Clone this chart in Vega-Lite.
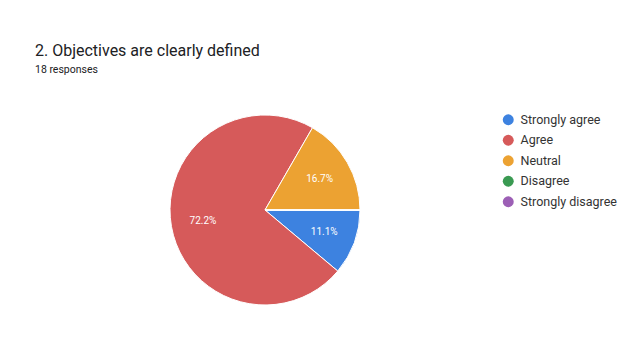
{
  "$schema": "https://vega.github.io/schema/vega-lite/v6.json",
  "autosize": "none",
  "width": 530,
  "height": 260,
  "padding": {"left": 0, "top": 80, "right": 112, "bottom": 1},
  "background": "white",
  "config": {"view": {"stroke": null}, "font": "Roboto"},
  "title": {
    "text": "2. Objectives are clearly defined",
    "subtitle": "18 responses",
    "anchor": "start",
    "frame": "group",
    "dx": 35,
    "offset": 5,
    "fontSize": 16,
    "fontWeight": "normal",
    "color": "#202124",
    "subtitleFontSize": 10.5,
    "subtitleColor": "#202124",
    "subtitlePadding": 6,
    "font": "Roboto",
    "subtitleFont": "Roboto"
  },
  "data": {
    "values": [
      {"answer": "Strongly agree", "count": 2, "order": 1, "label": "11.1%"},
      {"answer": "Agree", "count": 13, "order": 2, "label": "72.2%"},
      {"answer": "Neutral", "count": 3, "order": 3, "label": "16.7%"},
      {"answer": "Disagree", "count": 0, "order": 4, "label": ""},
      {"answer": "Strongly disagree", "count": 0, "order": 5, "label": ""}
    ]
  },
  "encoding": {
    "theta": {"field": "count", "type": "quantitative", "stack": true, "scale": {"range": [1.5708, 7.854]}},
    "order": {"field": "order", "type": "quantitative"}
  },
  "layer": [
    {
      "mark": {"type": "arc", "outerRadius": 95, "stroke": "white", "strokeWidth": 1},
      "encoding": {
        "color": {
          "field": "answer",
          "type": "nominal",
          "scale": {
            "domain": ["Strongly agree", "Agree", "Neutral", "Disagree", "Strongly disagree"],
            "range": ["#3d82e0", "#d65a5a", "#eca232", "#3a9a52", "#9c5fb5"]
          },
          "legend": {
            "orient": "none",
            "legendX": 502,
            "legendY": 33.5,
            "title": null,
            "symbolType": "circle",
            "symbolSize": 120,
            "symbolStrokeWidth": 0,
            "labelFontSize": 12.5,
            "labelColor": "#333333",
            "labelFont": "Roboto",
            "labelOffset": 6,
            "labelLimit": 200,
            "rowPadding": 7.5
          }
        }
      }
    },
    {
      "mark": {"type": "text", "radius": 63, "fill": "white", "fontSize": 10, "font": "Roboto"},
      "encoding": {
        "text": {"field": "label", "type": "nominal"}
      }
    }
  ]
}
